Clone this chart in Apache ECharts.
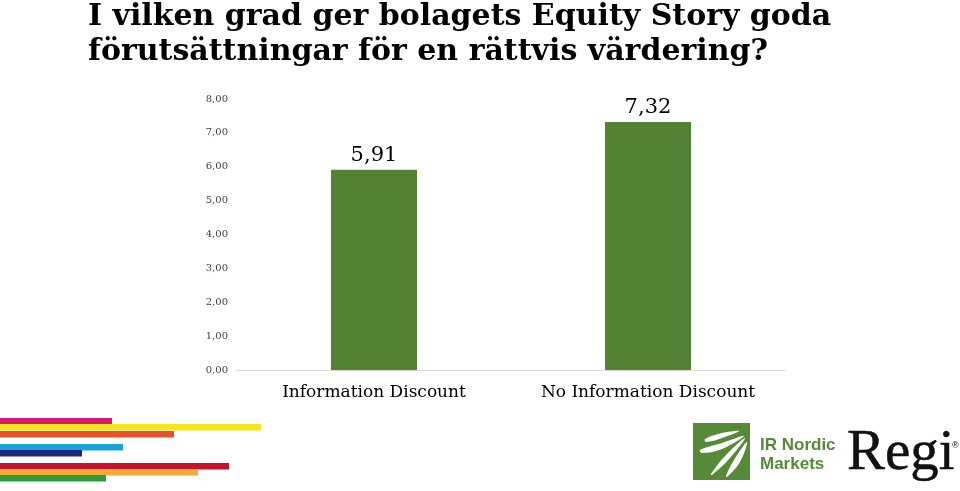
<!DOCTYPE html>
<html><head><meta charset="utf-8">
<script src="https://cdn.jsdelivr.net/npm/echarts@6/dist/echarts.min.js"></script>
<style>html,body{margin:0;padding:0;background:#fff}#c{width:960px;height:491px}</style>
</head><body><div id="c"></div>
<script>
const categories = ["Information Discount", "No Information Discount"];
const values = [5.91, 7.32];
const yTicks = [0, 1, 2, 3, 4, 5, 6, 7, 8];
const titleLines = ["I vilken grad ger bolagets Equity Story goda", "förutsättningar för en rättvis värdering?"];

const stripes = [
  {y:418,w:112,c:'#d81b72'},{y:424,w:261,c:'#f7e41f'},{y:431,w:174,c:'#e5522a'},
  {y:444,w:123,c:'#1aa2dd'},{y:450,w:82,c:'#1d2878'},
  {y:463,w:229,c:'#c4122f'},{y:469,w:198,c:'#f8a834'},{y:475,w:106,c:'#2b9b3b'}
];
const chart = echarts.init(document.getElementById('c'), null, {renderer:'canvas'});
const fmt = v => v.toFixed(2).replace('.', ',');
const graphics = stripes.map(s => ({type:'rect', shape:{x:0,y:s.y,width:s.w,height:6.5}, style:{fill:s.c}}));
graphics.push(
  {type:'text', x:88, y:0, style:{text:titleLines.join('\n'), font:'bold 30px "DejaVu Serif"', fill:'#000', lineHeight:35}},
  {type:'rect', shape:{x:693,y:423,width:57,height:57}, style:{fill:'#568a36'}},
  {type:'polygon', shape:{points:[[700,450],[722,443],[744,436],[722,449],[702,453]], smooth:0.4}, style:{fill:'#fff'}},
  {type:'polygon', shape:{points:[[705,439],[722,433],[739,431],[722,438],[706,442]], smooth:0.4}, style:{fill:'#fff'}},
  {type:'polygon', shape:{points:[[711,474],[726,455],[745,438],[730,458],[712,475]], smooth:0.4}, style:{fill:'#fff'}},
  {type:'polygon', shape:{points:[[726,476],[734,460],[747,442],[740,462],[727,477]], smooth:0.4}, style:{fill:'#fff'}},
  {type:'text', x:760, y:436, style:{text:'IR Nordic\nMarkets', font:'bold 17px "Liberation Sans"', fill:'#568a36', lineHeight:19}},
  {type:'text', x:847, y:426, style:{text:'Regi', font:'57px "Liberation Serif"', fill:'#111', stroke:'#111', lineWidth:0.5}},
  {type:'text', x:952, y:441, style:{text:'®', font:'9px "Liberation Sans"', fill:'#111'}}
);
chart.setOption({
  animation:false,
  grid:{left:237, right:175, top:99, bottom:121},
  xAxis:{type:'category', data:categories,
    axisLine:{lineStyle:{color:'#d9d9d9'}}, axisTick:{show:false},
    axisLabel:{interval:0, hideOverlap:false, fontFamily:'DejaVu Serif', fontSize:17, color:'#000', margin:14}},
  yAxis:{type:'value', min:0, max:8, interval:1,
    axisLine:{show:false}, axisTick:{show:false}, splitLine:{show:false},
    axisLabel:{formatter:v => yTicks.includes(v) ? fmt(v) : '', fontFamily:'DejaVu Serif', fontSize:10, color:'#404040', margin:9}},
  series:[{type:'bar', data:values, barWidth:86, itemStyle:{color:'#548235'},
    label:{show:true, position:'top', formatter:p => fmt(p.value),
      fontFamily:'DejaVu Serif', fontSize:21, color:'#000', distance:4}}],
  graphic:graphics
});
</script></body></html>
